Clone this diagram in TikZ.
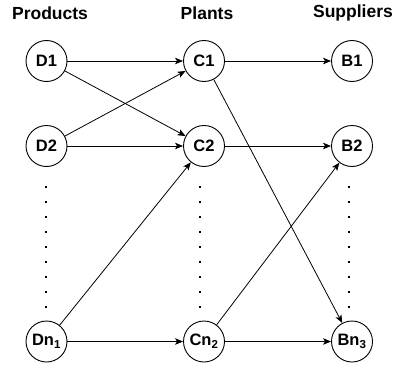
\documentclass[tikz,border=0pt]{standalone}
\usepackage{fontspec}
\setmainfont{Liberation Sans}
\usetikzlibrary{arrows.meta}

\begin{document}
\begin{tikzpicture}[
  x=1pt, y=-1pt,
  stn/.style={draw, circle, line width=0.9pt, minimum size=41pt, inner sep=0pt,
              font=\fontsize{16.5}{19}\selectfont\bfseries},
  hdr/.style={font=\fontsize{17.5}{21}\selectfont\bfseries},
  arr/.style={-{Stealth[length=8pt, width=6.5pt, inset=2pt]}, line width=0.8pt},
  vdot/.style={fill, rectangle, inner sep=0pt, minimum width=2.2pt, minimum height=2.6pt}
]
\useasboundingbox (0,0) rectangle (396,369);
% column titles
\node[hdr] (hP) at (50,13) {Products};
\node[hdr] (hC) at (207,13) {Plants};
\node[hdr] (hS) at (353,13) {Suppliers};
% products
\node[stn] (D1) at (46.5,61) {D1};
\node[stn] (D2) at (46.5,146) {D2};
\node[stn] (Dn) at (46.5,341.5) {Dn\textsubscript{1}};
% plants
\node[stn] (C1) at (204,61) {C1};
\node[stn] (C2) at (204,146) {C2};
\node[stn] (Cn) at (204,341.5) {Cn\textsubscript{2}};
% suppliers
\node[stn] (B1) at (352,61) {B1};
\node[stn] (B2) at (352,146) {B2};
\node[stn] (Bn) at (352,341.5) {Bn\textsubscript{3}};
% vertical dots
\foreach \k in {0,...,8} {
  \node[vdot] (dd\k) at (46,187+15*\k) {};
  \node[vdot] (dc\k) at (200,187+15*\k) {};
  \node[vdot] (db\k) at (349,187+15*\k) {};
}
% products -> plants
\draw[arr] (D1) -- (C1);
\draw[arr] (D1) -- (C2);
\draw[arr] (D2) -- (C1);
\draw[arr] (D2) -- (C2);
\draw[arr] (Dn) -- (C2);
\draw[arr] (Dn) -- (Cn);
% plants -> suppliers
\draw[arr] (C1) -- (B1);
\draw[arr] (C1) -- (Bn);
\draw[arr] (C2) -- (B2);
\draw[arr] (Cn) -- (B2);
\draw[arr] (Cn) -- (Bn);
\end{tikzpicture}
\end{document}
